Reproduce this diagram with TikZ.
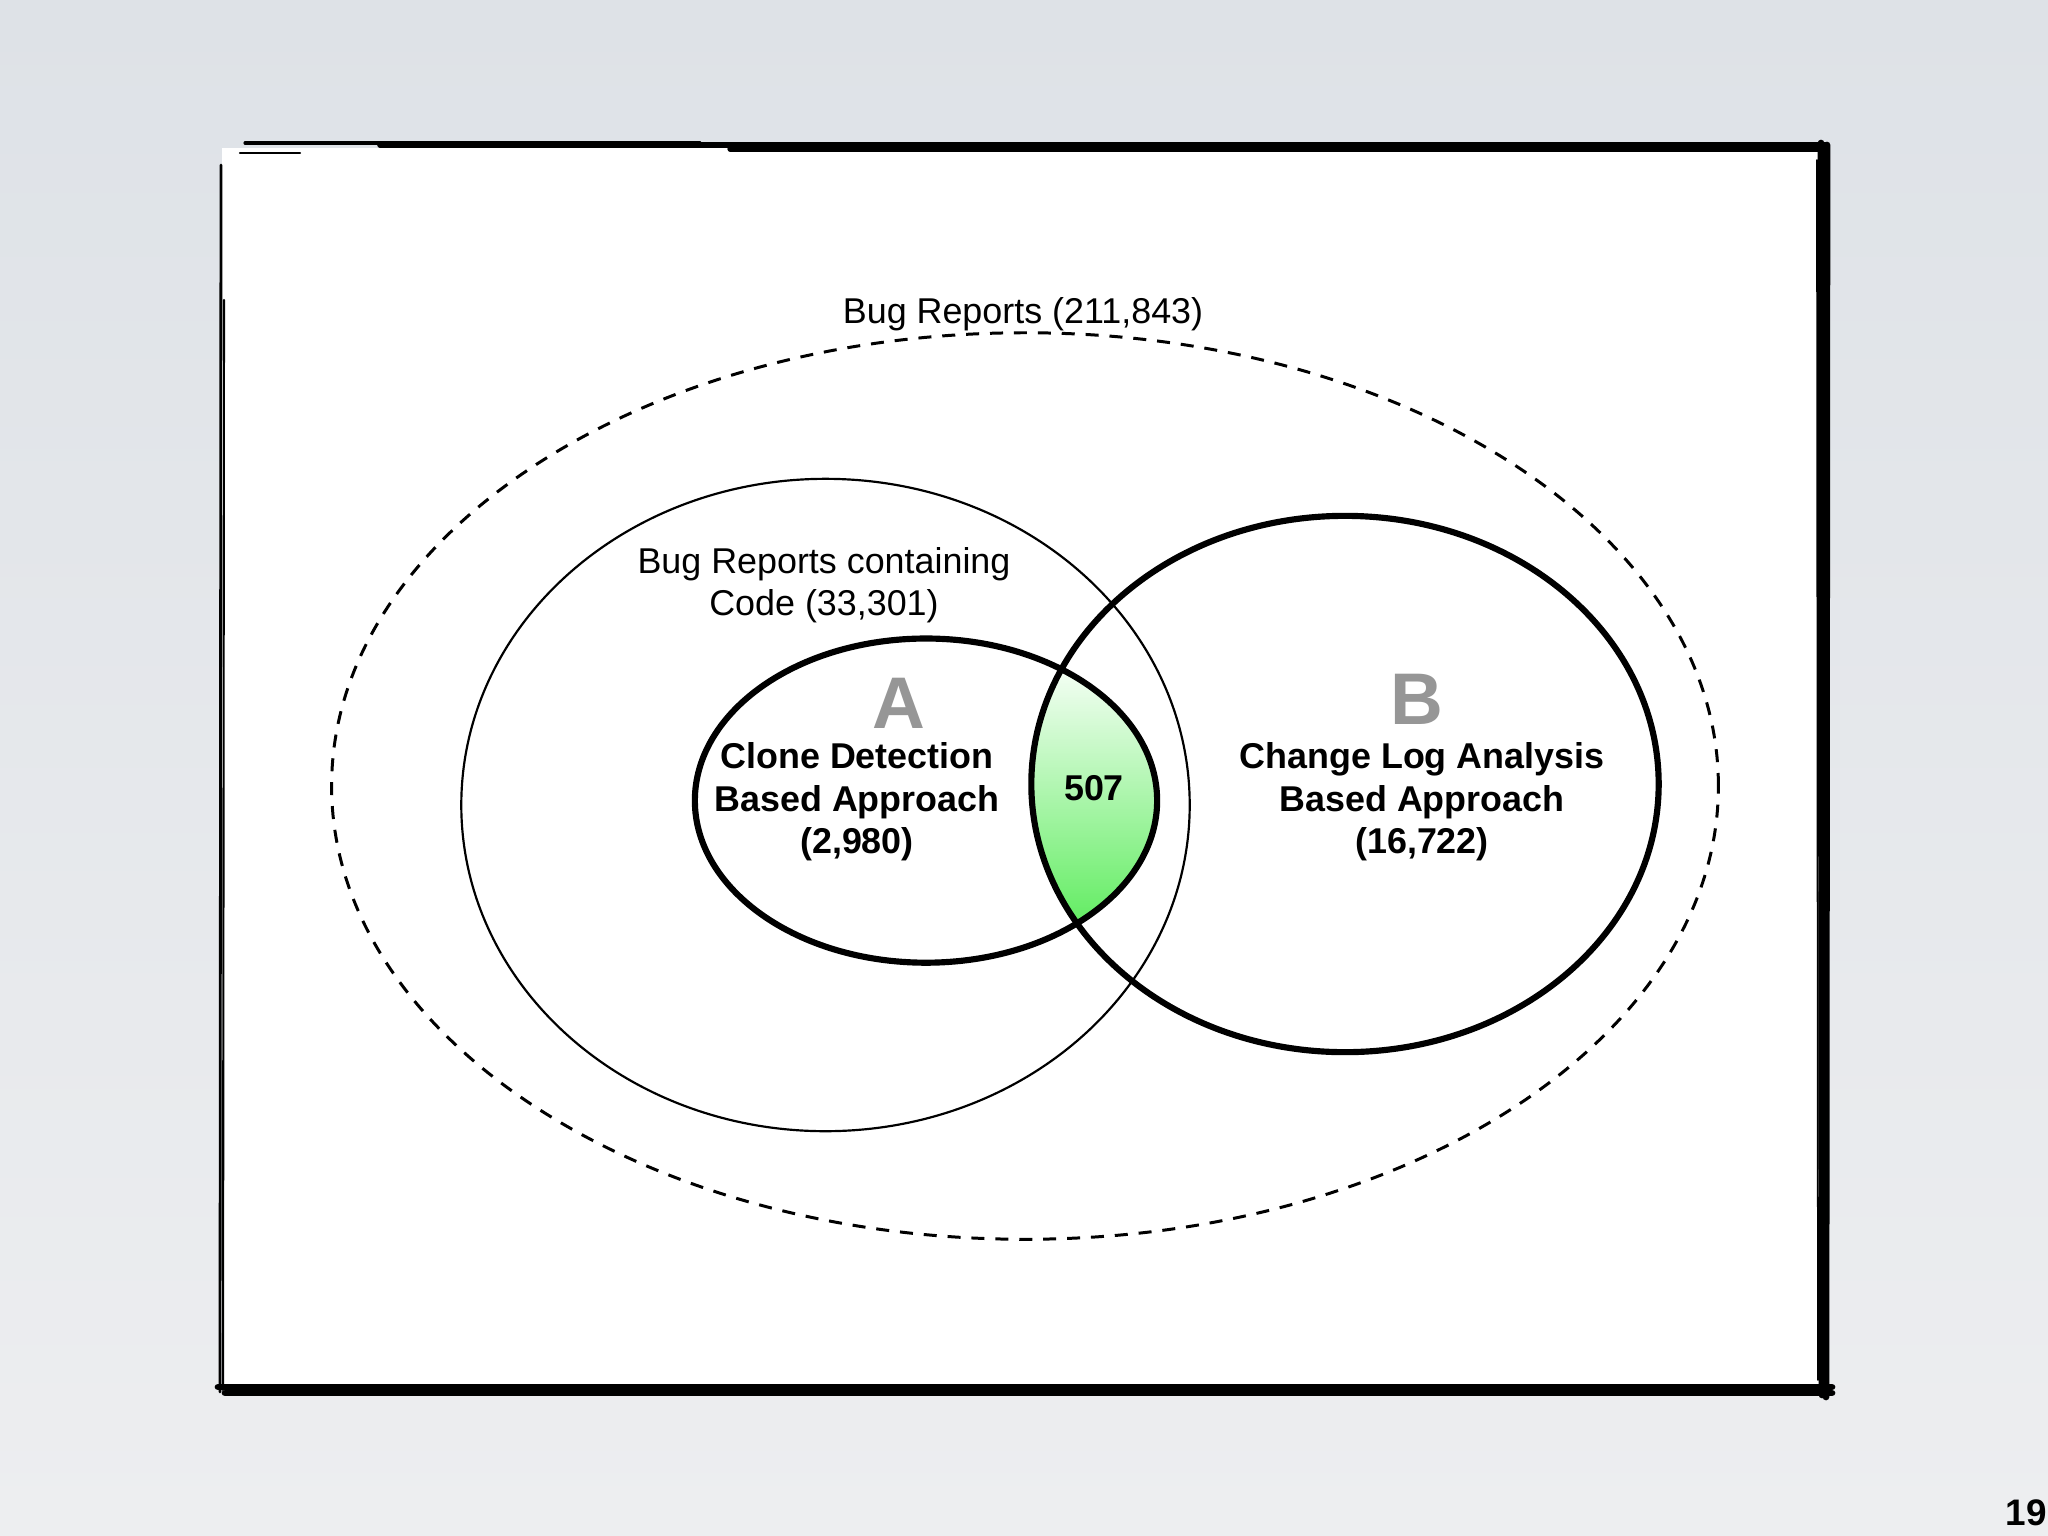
\documentclass[tikz,border=0pt]{standalone}
\usepackage{fontspec}
\setmainfont{Liberation Sans}
\definecolor{bgtop}{RGB}{222,226,231}
\definecolor{bgbot}{RGB}{237,238,240}
\definecolor{letgray}{RGB}{150,150,150}
\definecolor{lenstop}{RGB}{248,255,248}
\definecolor{lensbot}{RGB}{96,236,96}
\begin{document}
\begin{tikzpicture}[x=0.01cm,y=-0.01cm,
  lbl/.style={font=\fontsize{10.2}{12.1}\selectfont, inner sep=0pt, align=center},
  blbl/.style={font=\fontsize{10.2}{12.1}\selectfont\bfseries, inner sep=0pt, align=center},
  bigletter/.style={font=\fontsize{20.8}{24}\selectfont\bfseries, text=letgray, inner sep=0pt},
  thickset/.style={line width=1.75pt},
  thinset/.style={line width=0.62pt},
  dashset/.style={line width=0.85pt, dash pattern=on 3.7pt off 3.1pt},
  framestroke/.style={line cap=round}
]
\useasboundingbox (0,0) rectangle (2048,1536);
% background
\shade[top color=bgtop, bottom color=bgbot] (0,0) rectangle (2048,1536);
% slide panel
\fill[white] (222,148) rectangle (1822,1390);
% sketchy frame
\draw[framestroke, line width=0.9pt] (245,143) -- (700,143);
\draw[framestroke, line width=1.6pt] (380,145) -- (1826,145);
\draw[framestroke, line width=1.5pt] (730,149) -- (1826,149);
\draw[framestroke, line width=0.6pt] (240,153) -- (300,153);
\draw[framestroke, line width=1.9pt] (1821,143) -- (1822,1395);
\draw[framestroke, line width=1.9pt] (1827,145) -- (1826,1397);
\draw[framestroke, line width=0.5pt] (1817,160) -- (1818,1380);
\draw[framestroke, line width=1.9pt] (218,1387) -- (1832,1387);
\draw[framestroke, line width=1.9pt] (225,1393) -- (1832,1393);
\draw[framestroke, line width=0.8pt] (221,165) -- (220,1392);
\draw[framestroke, line width=0.6pt] (224,300) -- (223,1390);
% lens (intersection of A and B)
\begin{scope}
  \clip (926,800.6) ellipse [x radius=2.31cm, y radius=1.62cm];
  \clip (1345,784) ellipse [x radius=3.135cm, y radius=2.68cm];
  \fill[top color=lenstop, bottom color=lensbot] (1025,662) rectangle (1165,928);
\end{scope}
% sets
\draw[dashset] (1025,786) ellipse [x radius=6.93cm, y radius=4.53cm];
\draw[thinset] (825.5,805) ellipse [x radius=3.64cm, y radius=3.26cm];
\draw[thickset] (926,800.6) ellipse [x radius=2.31cm, y radius=1.62cm];
\draw[thickset] (1345,784) ellipse [x radius=3.135cm, y radius=2.68cm];
% labels
\node[lbl, anchor=base] (all) at (1023,323) {Bug Reports (211,843)};
\node[lbl] (code) at (824,585) {Bug Reports containing\\Code (33,301)};
\node[bigletter] (la) at (899,703) {A};
\node[bigletter] (lb) at (1417,699) {B};
\node[blbl] (ta) at (857,802) {Clone Detection\\Based Approach\\(2,980)};
\node[blbl] (tb) at (1422,802) {Change Log Analysis\\Based Approach\\(16,722)};
\node[blbl, anchor=base] (both) at (1094,800) {507};
\node[font=\fontsize{10.5}{12}\selectfont\bfseries, anchor=base, inner sep=0pt] (pg) at (2026,1525) {19};
\end{tikzpicture}
\end{document}
